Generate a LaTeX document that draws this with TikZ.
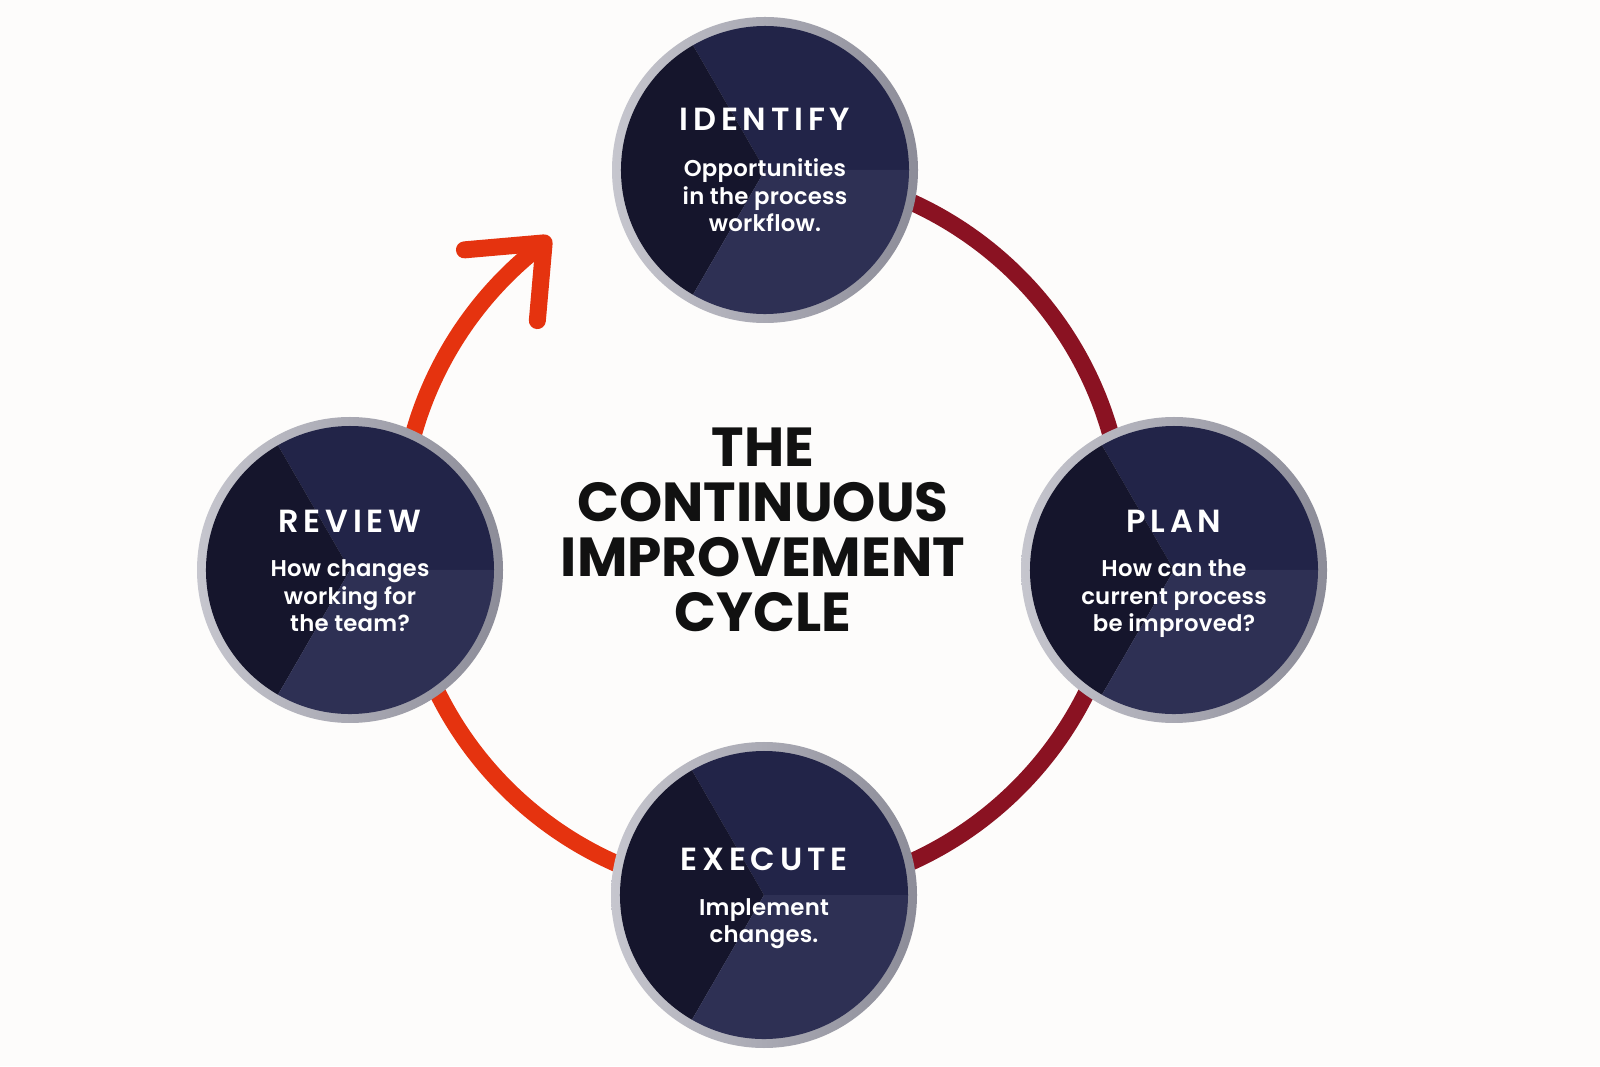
\documentclass[tikz,border=0pt]{standalone}
\usepackage{fontspec}
\IfFontExistsTF{Poppins SemiBold}{%
  \newfontfamily\bodyfont{Poppins SemiBold}[LetterSpace=1]%
  \newfontfamily\stagefont{Poppins SemiBold}[LetterSpace=15]%
}{%
  \newfontfamily\bodyfontb{Poppins}[LetterSpace=1]%
  \newfontfamily\stagefontb{Poppins}[LetterSpace=15]%
  \newcommand\bodyfont{\bodyfontb\bfseries}%
  \newcommand\stagefont{\stagefontb\bfseries}%
}
\newfontfamily\headfontb{Poppins}
\newcommand\headfont{\headfontb\bfseries}
\definecolor{bg}{HTML}{FDFCFB}
\definecolor{ringred}{HTML}{8A1222}
\definecolor{ringorange}{HTML}{E5330F}
\definecolor{wdark}{HTML}{15152C}
\definecolor{wmid}{HTML}{222448}
\definecolor{wlight}{HTML}{2E3054}
\definecolor{rimlight}{HTML}{C6C6CE}
\definecolor{rimdark}{HTML}{8C8C98}
\definecolor{headtext}{HTML}{111111}
\begin{document}
\begin{tikzpicture}[x=1pt,y=1pt,
  stage/.style={circle, minimum size=306pt, inner sep=0pt, draw=none,
    left color=rimlight, right color=rimdark,
    path picture={
      \fill[wmid] (path picture bounding box.center) -- ++(0:144)
        arc[start angle=0,end angle=120,radius=144] -- cycle;
      \fill[wdark] (path picture bounding box.center) -- ++(120:144)
        arc[start angle=120,end angle=240,radius=144] -- cycle;
      \fill[wlight] (path picture bounding box.center) -- ++(240:144)
        arc[start angle=240,end angle=360,radius=144] -- cycle;
    }},
  stagetitle/.style={anchor=base, inner sep=0pt, text=white,
    font=\stagefont\fontsize{32}{32}\selectfont},
  stagebody/.style={anchor=base, inner sep=0pt, text=white,
    font=\bodyfont\fontsize{22.8}{27.5}\selectfont},
  headline/.style={anchor=base, inner sep=0pt, text=headtext,
    font=\headfont\fontsize{55}{52.5}\selectfont},
  ringdark/.style={draw=ringred, line width=17pt},
  ringbright/.style={draw=ringorange, line width=17pt},
  arrowarm/.style={draw=ringorange, line width=17pt, line cap=round, line join=round}
]
\useasboundingbox (0,0) rectangle (1600,1066);
\fill[bg] (0,0) rectangle (1600,1066);

% ring
\coordinate (ringc) at (762,534);
\draw[ringdark] (ringc) ++(90:362) arc[start angle=90,end angle=-90,radius=362];
\draw[ringbright] (ringc) ++(270:362) arc[start angle=270,end angle=127,radius=362];
\path (ringc) ++(127:362) coordinate (tip);
\path (tip) ++(185:80) coordinate (headA);
\path (tip) ++(265:78) coordinate (headB);
\draw[arrowarm] (headA) -- (tip) -- (headB);

% stages
\node[stage] (identify) at (765,896) {};
\node[stage] (review) at (350,496) {};
\node[stage] (plan) at (1174,496) {};
\node[stage] (execute) at (764,171) {};

\node[stagetitle] (identify-t) at ([yshift=39pt]identify.center) {IDENTIFY};
\node[stagebody] (identify-b) at ([yshift=-7pt]identify.center)
  {\begin{tabular}[t]{@{}c@{}}Opportunities\\in the process\\workflow.\end{tabular}};

\node[stagetitle] (review-t) at ([yshift=37pt]review.center) {REVIEW};
\node[stagebody] (review-b) at ([yshift=-7pt]review.center)
  {\begin{tabular}[t]{@{}c@{}}How changes\\working for\\the team?\end{tabular}};

\node[stagetitle] (plan-t) at ([yshift=37pt]plan.center) {PLAN};
\node[stagebody] (plan-b) at ([yshift=-7pt]plan.center)
  {\begin{tabular}[t]{@{}c@{}}How can the\\current process\\be improved?\end{tabular}};

\node[stagetitle] (execute-t) at ([yshift=25pt]execute.center) {EXECUTE};
\node[stagebody] (execute-b) at ([yshift=-20pt]execute.center)
  {\begin{tabular}[t]{@{}c@{}}Implement\\changes.\end{tabular}};

% centre title
\node[headline] (headline) at (763,599)
  {\begin{tabular}[t]{@{}c@{}}THE\\CONTINUOUS\\IMPROVEMENT\\CYCLE\end{tabular}};
\end{tikzpicture}
\end{document}
